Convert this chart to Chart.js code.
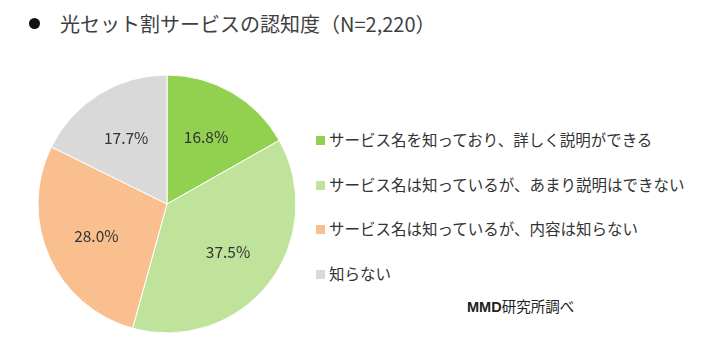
<!DOCTYPE html>
<html>
<head>
<meta charset="utf-8">
<script src="https://cdn.jsdelivr.net/npm/chart.js@4"></script>
<style>
  body { margin: 0; background: #fff; width: 702px; height: 359px; position: relative; overflow: hidden;
         font-family: "Noto Sans CJK JP", sans-serif; color: #333; }
  #title { position: absolute; left: 29px; top: 9px; font-size: 20px; color: #404040; white-space: nowrap; }
  #title .dot { display: inline-block; width: 11px; height: 11px; border-radius: 50%; background: #111;
                margin-right: 20px; vertical-align: 3px; }
  #chartBox { position: absolute; left: 32px; top: 69px; width: 270px; height: 270px; }
  #legend { position: absolute; left: 316px; top: 128px; font-size: 15.5px; }
  #legend .row { height: 44.7px; white-space: nowrap; }
  #legend .sw { display: inline-block; width: 9px; height: 9px; margin-right: 4px; vertical-align: 1px; }
  #source { position: absolute; left: 467px; top: 295px; font-size: 14.5px; color: #222; }
  #source b { font-family: "Liberation Sans", Arial, sans-serif; font-weight: 900; }
</style>
</head>
<body>
<div id="title"><span class="dot"></span>光セット割サービスの認知度（N=2,220）</div>
<div id="chartBox"><canvas id="pie" width="270" height="270"></canvas></div>
<div id="legend"></div>
<div id="source"><b>MMD</b>研究所調べ</div>
<script>
const labels = [
    'サービス名を知っており、詳しく説明ができる',
    'サービス名は知っているが、あまり説明はできない',
    'サービス名は知っているが、内容は知らない',
    '知らない'
];
const values = [16.8, 37.5, 28.0, 17.7];
const colors = ['#92D050', '#C0E39C', '#F9BF8F', '#D9D9D9'];

// percentage labels inside each slice
const sliceLabels = {
    id: 'sliceLabels',
    afterDatasetsDraw(chart) {
        const ctx = chart.ctx;
        const meta = chart.getDatasetMeta(0);
        ctx.save();
        ctx.font = '15.5px "Noto Sans CJK JP", sans-serif';
        ctx.fillStyle = '#333';
        ctx.textAlign = 'center';
        ctx.textBaseline = 'middle';
        meta.data.forEach((arc, i) => {
            const mid = (arc.startAngle + arc.endAngle) / 2;
            const r = arc.outerRadius * 0.6;
            ctx.fillText(values[i].toFixed(1) + '%', arc.x + Math.cos(mid) * r, arc.y + Math.sin(mid) * r);
        });
        ctx.restore();
    }
};

new Chart(document.getElementById('pie'), {
    type: 'pie',
    data: {
        labels: labels,
        datasets: [{
            data: values,
            backgroundColor: colors,
            borderColor: '#fff',
            borderWidth: 1
        }]
    },
    options: {
        responsive: false,
        animation: false,
        radius: 129,
        plugins: {
            legend: { display: false },
            tooltip: { enabled: false }
        }
    },
    plugins: [sliceLabels]
});

// legend on the right
document.getElementById('legend').innerHTML = labels.map((l, i) =>
    `<div class="row"><span class="sw" style="background:${colors[i]}"></span>${l}</div>`
).join('');
</script>
</body>
</html>
